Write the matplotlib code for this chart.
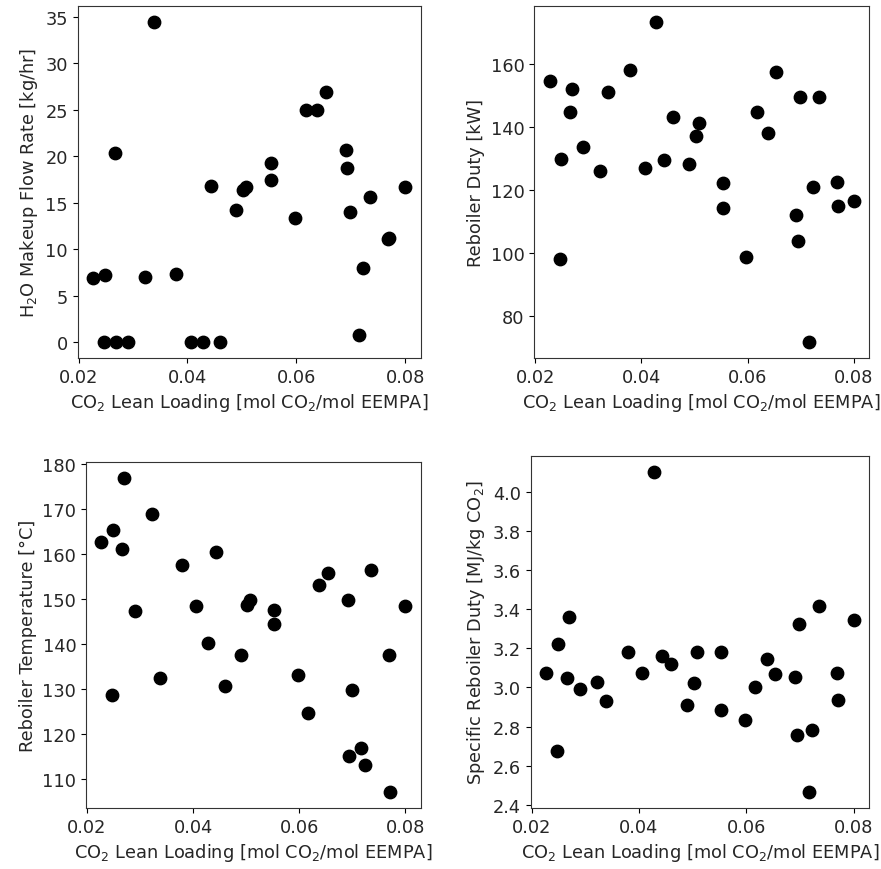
import numpy as np
import matplotlib
matplotlib.use('agg')
import matplotlib.pyplot as plt
from matplotlib.ticker import MultipleLocator, FormatStrFormatter

# CO2 lean loading [mol CO2/mol EEMPA], shared by all four panels
lean_loading = [0.0227, 0.0247, 0.0249, 0.0266, 0.0269, 0.0290, 0.0322, 0.0338,
                0.0379, 0.0406, 0.0428, 0.0443, 0.0460, 0.0490, 0.0502, 0.0508,
                0.0553, 0.0553, 0.0597, 0.0617, 0.0638, 0.0654, 0.0691, 0.0694,
                0.0699, 0.0716, 0.0723, 0.0735, 0.0769, 0.0771, 0.0800]

h2o_makeup = [6.9, 0.0, 7.2, 20.4, 0.0, 0.0, 7.0, 34.5,
              7.3, 0.0, 0.0, 16.8, 0.0, 14.2, 16.4, 16.7,
              19.3, 17.4, 13.3, 25.0, 25.0, 26.9, 20.7, 18.7,
              14.0, 0.7, 8.0, 15.6, 11.1, 11.2, 16.7]

reboiler_duty = [154.7, 98.3, 130.0, 145.0, 152.0, 133.7, 126.0, 151.1,
                 158.1, 127.1, 173.5, 129.6, 143.4, 128.4, 137.3, 141.4,
                 122.4, 114.3, 98.8, 144.7, 138.2, 157.4, 112.2, 104.0,
                 149.5, 71.9, 121.1, 149.5, 122.7, 115.0, 116.7]

reboiler_temp = [162.6, 128.8, 165.3, 161.2, 176.9, 147.3, 168.9, 132.4,
                 157.6, 148.4, 140.2, 160.4, 130.8, 137.6, 148.7, 149.9,
                 147.6, 144.4, 133.1, 124.6, 153.2, 155.8, 149.9, 115.2,
                 129.9, 117.0, 113.1, 156.4, 137.6, 107.1, 148.4]

specific_duty = [3.075, 2.674, 3.220, 3.048, 3.363, 2.990, 3.029, 2.930,
                 3.184, 3.075, 4.104, 3.160, 3.121, 2.910, 3.022, 3.179,
                 3.179, 2.884, 2.831, 3.003, 3.146, 3.068, 3.056, 2.755,
                 3.325, 2.465, 2.780, 3.417, 3.075, 2.937, 3.344]

xlabel = 'CO$_2$ Lean Loading [mol CO$_2$/mol EEMPA]'
panels = [
    (h2o_makeup, 'H$_2$O Makeup Flow Rate [kg/hr]'),
    (reboiler_duty, 'Reboiler Duty [kW]'),
    (reboiler_temp, 'Reboiler Temperature [\u00b0C]'),
    (specific_duty, 'Specific Reboiler Duty [MJ/kg CO$_2$]'),
]

# axes boxes in figure fractions (left, bottom, width, height)
boxes = [
    [0.0882, 0.5874, 0.3893, 0.4049],
    [0.6065, 0.5874, 0.3799, 0.4049],
    [0.0976, 0.0701, 0.3799, 0.3974],
    [0.6024, 0.0701, 0.3840, 0.4049],
]

plt.rcParams['font.size'] = 12.8
plt.rcParams['text.color'] = '#262626'
plt.rcParams['axes.labelcolor'] = '#262626'
plt.rcParams['xtick.labelcolor'] = '#262626'
plt.rcParams['ytick.labelcolor'] = '#262626'
plt.rcParams['axes.edgecolor'] = '#333333'
fig = plt.figure(figsize=(8.81, 8.70), dpi=100)

axs = []
for (values, ylabel), box in zip(panels, boxes):
    ax = fig.add_axes(box)
    ax.scatter(lean_loading, values, s=80, color='black', zorder=3)
    ax.set_xticks([0.02, 0.04, 0.06, 0.08])
    ax.set_xlabel(xlabel)
    ax.set_ylabel(ylabel)
    axs.append(ax)

axs[3].yaxis.set_major_locator(MultipleLocator(0.2))
axs[3].yaxis.set_major_formatter(FormatStrFormatter('%.1f'))

fig.savefig('out.png', dpi=100)
